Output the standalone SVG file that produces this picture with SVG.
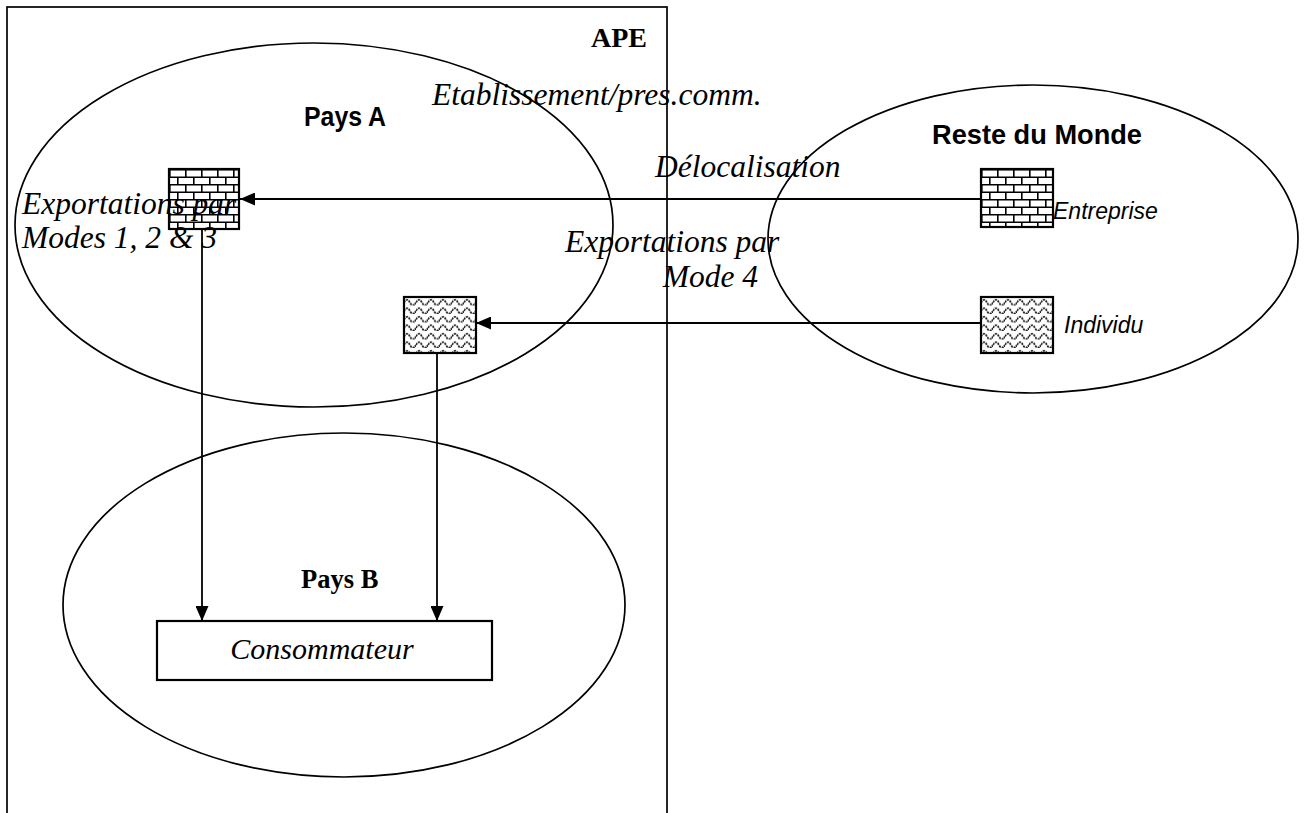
<svg xmlns="http://www.w3.org/2000/svg" width="1308" height="813" viewBox="0 0 1308 813">
<style>
.ln{fill:none;stroke:#000;stroke-width:1.7}
.bx{stroke:#000;stroke-width:2.2}
.ti{font-family:"Liberation Serif","Times New Roman",serif;font-style:italic;font-size:31.5px;fill:#000}
.tb{font-family:"Liberation Serif","Times New Roman",serif;font-weight:bold;font-size:28px;fill:#000}
.sb{font-family:"Liberation Sans",Arial,sans-serif;font-weight:bold;font-size:27px;fill:#000}
.si{font-family:"Liberation Sans",Arial,sans-serif;font-style:italic;font-size:23px;fill:#000}
.cn{fill:none;stroke:#000;stroke-width:1.8}
</style>
<defs>
<pattern id="brick" width="16" height="15" patternUnits="userSpaceOnUse" x="169" y="169">
<rect width="16" height="15" fill="#fff"/>
<path d="M0 0.8H16M0 8.3H16M0.8 0V7.5M8.8 7.5V15" stroke="#000" stroke-width="1.6" fill="none"/>
</pattern>
<pattern id="brick2" width="16" height="15" patternUnits="userSpaceOnUse" x="981" y="169">
<rect width="16" height="15" fill="#fff"/>
<path d="M0 0.8H16M0 8.3H16M0.8 0V7.5M8.8 7.5V15" stroke="#000" stroke-width="1.6" fill="none"/>
</pattern>
<pattern id="wave" width="12" height="8.5" patternUnits="userSpaceOnUse" x="404" y="297">
<rect width="12" height="8.5" fill="#fff"/>
<path d="M0 5.5Q3 0 6 5.5T12 5.5" stroke="#222" stroke-width="1.8" stroke-dasharray="2.2 0.8" fill="none"/>
</pattern>
<pattern id="wave2" width="12" height="8.5" patternUnits="userSpaceOnUse" x="981" y="297">
<rect width="12" height="8.5" fill="#fff"/>
<path d="M0 5.5Q3 0 6 5.5T12 5.5" stroke="#222" stroke-width="1.8" stroke-dasharray="2.2 0.8" fill="none"/>
</pattern>
<marker id="ah" viewBox="0 0 15 13" refX="15" refY="6.5" markerWidth="15" markerHeight="13" markerUnits="userSpaceOnUse" orient="auto">
<path d="M0 0L15 6.5L0 13z" fill="#000"/>
</marker>
</defs>

<g id="ape">
<rect x="7" y="7" width="660" height="812" class="ln"/>
<text x="591" y="47" class="tb">APE</text>
</g>

<g id="pays-a">
<ellipse cx="314" cy="225" rx="299" ry="182" class="ln"/>
<text x="304" y="126" class="sb" textLength="82" lengthAdjust="spacingAndGlyphs">Pays A</text>
</g>

<g id="reste-du-monde">
<ellipse cx="1033" cy="239" rx="265" ry="154" class="ln"/>
<text x="932" y="144" class="sb" textLength="210" lengthAdjust="spacingAndGlyphs">Reste du Monde</text>
</g>

<g id="pays-b">
<ellipse cx="344" cy="605" rx="281" ry="172" class="ln"/>
<text x="301" y="588" class="tb" style="font-size:26.5px">Pays B</text>
</g>

<g id="connectors">
<line x1="981" y1="199" x2="240" y2="199" class="cn" marker-end="url(#ah)"/>
<line x1="981" y1="323" x2="476" y2="323" class="cn" marker-end="url(#ah)"/>
<line x1="202" y1="229" x2="202" y2="621" class="cn" marker-end="url(#ah)"/>
<line x1="437" y1="353" x2="437" y2="621" class="cn" marker-end="url(#ah)"/>
</g>

<g id="entreprise-a">
<rect x="169" y="169" width="70" height="60" fill="url(#brick)" class="bx"/>
</g>

<g id="individu-a">
<rect x="404" y="297" width="72" height="56" fill="url(#wave)" class="bx"/>
</g>

<g id="entreprise-rdm">
<rect x="981" y="169" width="72" height="58" fill="url(#brick2)" class="bx"/>
<text x="1053" y="219" class="si">Entreprise</text>
</g>

<g id="individu-rdm">
<rect x="981" y="297" width="72" height="56" fill="url(#wave2)" class="bx"/>
<text x="1064" y="333" class="si">Individu</text>
</g>

<g id="consommateur">
<rect x="157" y="621" width="335" height="59" fill="#fff" class="bx"/>
<text x="322" y="659" class="ti" text-anchor="middle" style="font-size:30px">Consommateur</text>
</g>

<g id="labels">
<text x="432" y="105" class="ti">Etablissement/pres.comm.</text>
<text x="655" y="177" class="ti">Délocalisation</text>
<text x="22" y="214" class="ti">Exportations par</text>
<text x="22" y="248" class="ti">Modes 1, 2 &amp; 3</text>
<text x="565" y="252" class="ti">Exportations par</text>
<text x="758" y="287" class="ti" text-anchor="end">Mode 4</text>
</g>
</svg>
